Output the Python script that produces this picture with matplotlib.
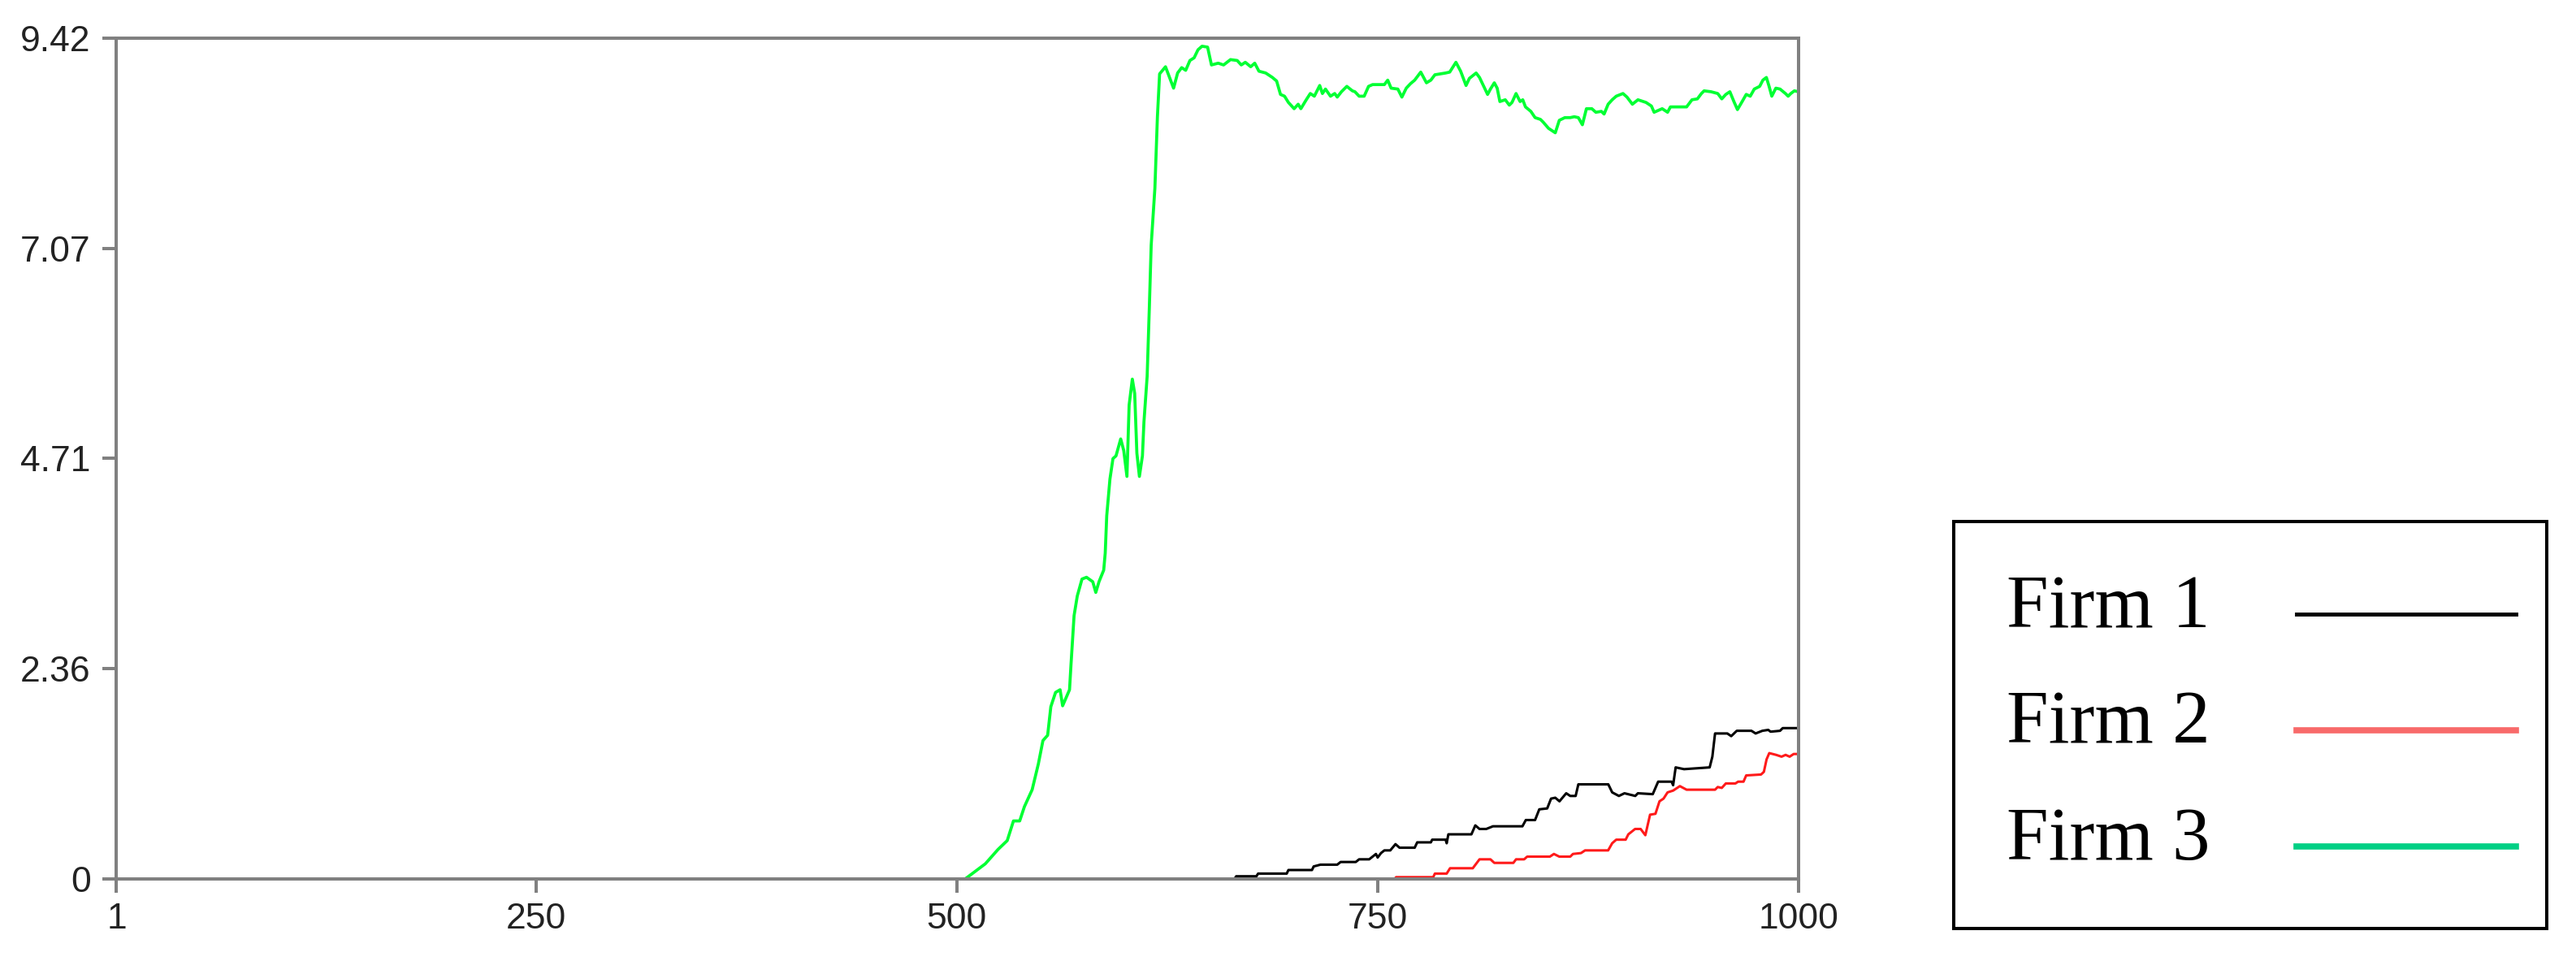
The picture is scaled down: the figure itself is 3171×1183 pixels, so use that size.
import numpy as np
import matplotlib.pyplot as plt
from matplotlib.lines import Line2D
from matplotlib.legend_handler import HandlerLine2D

plt.rcParams['font.family'] = ['Liberation Sans', 'DejaVu Sans']

# tick positions / labels
x_ticks = [1, 250, 500, 750, 1000]
x_labels = ['1', '250', '500', '750', '1000']
y_ticks = [0, 2.355, 4.71, 7.065, 9.42]
y_labels = ['0', '2.36', '4.71', '7.07', '9.42']

firms = ['Firm 1', 'Firm 2', 'Firm 3']

# Firm 3 (green)
green_x = [1, 505, 517, 524.5, 530, 533.7, 537.4, 540.2, 544.8, 548.5, 551.2, 554, 555.9,
           558.7, 561.4, 562.9, 567, 567.9, 569.7, 571.6, 574.4, 577.1, 580.8, 582.6, 584.5,
           587.3, 588.2, 589.1, 591, 592.8, 594.6, 597.4, 599.2, 601.1, 602.4, 604.3, 605.7,
           607, 608.5, 610.3, 611.2, 613.1, 614.4, 615.5, 617.7, 619.2, 620.5, 624, 626.4,
           628.8, 631.2, 633.6, 636, 638.5, 641, 643.3, 645.7, 649, 651.3, 655.3, 658.5,
           662.6, 666.6, 669, 671.4, 674.6, 677, 679.5, 683.5, 687.5, 690, 692.3, 694.7, 697,
           700.4, 702.8, 704.4, 707.6, 710, 712.4, 715.6, 717.2, 719, 722, 724.5, 726, 728.5,
           731.7, 735, 736.5, 739, 742, 744.6, 747, 754, 756, 758, 762, 764.4, 767, 769.5,
           772, 775.6, 779, 781.6, 784, 790.4, 792.8, 796.5, 799.3, 802.5, 804.5, 808.5, 810.5,
           813, 815.3, 817, 819.3, 821, 822.6, 825.8, 828.2, 829.8, 832.2, 834.6, 836.2, 837.8,
           841, 843.5, 846.7, 848.3, 851.5, 855.5, 857.9, 861.2, 864.4, 866.8, 869.2, 871.6,
           874, 877.2, 879.6, 882.9, 884.5, 886.9, 889.3, 891.7, 895.7, 898.1, 901.3, 904.6,
           909.4, 912.6, 914.2, 919, 922.2, 923.9, 933.5, 936.7, 939.9, 942.3, 943.9, 948, 952,
           954.4, 956.8, 959.2, 961.6, 963.7, 966.5, 968.9, 971.3, 973.7, 976.9, 978.8, 980.9,
           982.5, 984.1, 986.5, 989, 992.2, 993.8, 995.4, 997.5, 1000]
green_y = [0, 0, 0.17, 0.33, 0.43, 0.65, 0.65, 0.81, 1.00, 1.29, 1.55, 1.61, 1.93,
           2.09, 2.12, 1.94, 2.12, 2.41, 2.95, 3.17, 3.36, 3.38, 3.33, 3.21, 3.33,
           3.46, 3.65, 4.07, 4.48, 4.71, 4.74, 4.93, 4.80, 4.51, 5.31, 5.60, 5.44,
           4.77, 4.51, 4.74, 5.12, 5.63, 6.40, 7.10, 7.74, 8.54, 9.02, 9.10, 8.98,
           8.86, 9.03, 9.09, 9.06, 9.17, 9.20, 9.29, 9.33, 9.32, 9.12, 9.14, 9.12,
           9.18, 9.17, 9.12, 9.15, 9.10, 9.14, 9.05, 9.03, 8.98, 8.94, 8.79, 8.77, 8.70,
           8.63, 8.68, 8.63, 8.73, 8.80, 8.77, 8.89, 8.80, 8.85, 8.77, 8.80, 8.76, 8.82,
           8.88, 8.83, 8.82, 8.77, 8.77, 8.88, 8.90, 8.90, 8.95, 8.86, 8.85, 8.76, 8.86, 8.91,
           8.95, 9.04, 8.92, 8.95, 9.01, 9.03, 9.04, 9.15, 9.05, 8.89, 8.97, 9.03, 8.98,
           8.88, 8.79, 8.85, 8.92, 8.86, 8.71, 8.73, 8.67, 8.70, 8.80, 8.71, 8.73, 8.65,
           8.60, 8.53, 8.51, 8.48, 8.41, 8.36, 8.50, 8.53, 8.53, 8.54, 8.53, 8.45,
           8.63, 8.63, 8.59, 8.60, 8.57, 8.68, 8.73, 8.77, 8.80, 8.76, 8.68, 8.73,
           8.70, 8.66, 8.59, 8.63, 8.59, 8.65, 8.65, 8.73, 8.74, 8.80, 8.83, 8.82, 8.80,
           8.74, 8.79, 8.82, 8.71, 8.62, 8.71, 8.79, 8.77, 8.85, 8.88, 8.95, 8.98,
           8.88, 8.77, 8.86, 8.85, 8.80, 8.77, 8.80, 8.83, 8.82]

# Firm 1 (black)
black_x = [1, 665, 666, 678, 679, 696, 697, 711, 712, 716, 726, 728, 737, 739, 745, 747,
           749, 750, 752, 754, 757.5, 760.6, 763, 772, 773.5, 781.6, 782.4, 790.4, 791, 792,
           805.7, 808, 810.5, 814.5, 818.5, 836, 838, 843.5, 846, 850.7, 853, 855.5, 858, 862,
           864.4, 867.6, 869.2, 887, 889.3, 893.3, 896.6, 903, 904.6, 913.4, 916.6, 924.6,
           925.5, 927, 932, 947.2, 948.8, 950.4, 957.7, 960, 963.3, 972, 974.5, 978.5, 982,
           983.4, 989, 990.6, 1000]
black_y = [0, 0, 0.03, 0.03, 0.06, 0.06, 0.10, 0.10, 0.14, 0.16, 0.16, 0.19, 0.19, 0.22,
           0.22, 0.25, 0.28, 0.24, 0.29, 0.32, 0.32, 0.39, 0.35, 0.35, 0.41, 0.41, 0.44, 0.44,
           0.40, 0.50, 0.50, 0.60, 0.56, 0.56, 0.59, 0.59, 0.66, 0.66, 0.78, 0.79, 0.90, 0.91,
           0.87, 0.96, 0.93, 0.93, 1.06, 1.06, 0.97, 0.93, 0.96, 0.93, 0.96, 0.95, 1.09, 1.09,
           1.05, 1.25, 1.23, 1.25, 1.37, 1.63, 1.63, 1.60, 1.66, 1.66, 1.63, 1.66, 1.67, 1.65,
           1.66, 1.69, 1.69]

# Firm 2 (red)
red_x = [1, 760, 761, 783, 784, 791, 793, 806.5, 810.5, 817, 819.3, 830.6, 832.2, 837, 838.8,
         852.3, 854.7, 857.9, 864.4, 866, 870.8, 873.2, 886.9, 889.3, 891.7, 897.3, 898.9,
         902.9, 906.2, 909, 911.8, 915, 917.4, 919.8, 922.2, 925.5, 929.5, 933.5, 950.4, 952,
         954.4, 956.8, 962.5, 964.1, 967.3, 968.9, 977.7, 979.4, 981, 982.6, 986.7, 989.9,
         992.3, 994.7, 997.1, 1000]
red_y = [0, 0, 0.02, 0.02, 0.06, 0.06, 0.12, 0.12, 0.22, 0.22, 0.18, 0.18, 0.22, 0.22, 0.25,
         0.25, 0.28, 0.25, 0.25, 0.28, 0.29, 0.32, 0.32, 0.40, 0.44, 0.44, 0.50,
         0.56, 0.56, 0.49, 0.72, 0.73, 0.87, 0.90, 0.97, 0.99, 1.04, 1.00, 1.00, 1.03,
         1.02, 1.07, 1.07, 1.09, 1.09, 1.16, 1.17, 1.20, 1.34, 1.41, 1.39, 1.37,
         1.39, 1.37, 1.40, 1.40]


class ShiftedLine(HandlerLine2D):
    # legend key sits a bit lower and further right than the default
    def create_artists(self, legend, orig_handle, xdescent, ydescent, width, height,
                       fontsize, trans):
        arts = super().create_artists(legend, orig_handle, xdescent, ydescent, width,
                                      height, fontsize, trans)
        for a in arts:
            a.set_xdata(np.asarray(a.get_xdata(), float) + 0.29 * fontsize)
            a.set_ydata(np.asarray(a.get_ydata(), float) - 0.18 * fontsize)
        return arts


fig = plt.figure(figsize=(31.71, 11.83), dpi=100)
ax = fig.add_axes([0.04525, 0.08538, 0.65295, 0.87489])

ax.plot(green_x, green_y, color='#00ff33', lw=2.7)
ax.plot(black_x, black_y, color='black', lw=2.2)
ax.plot(red_x, red_y, color='#ff1a1a', lw=2.2)

ax.set_xlim(1, 1000)
ax.set_ylim(0, 9.42)
ax.set_xticks(x_ticks, x_labels)
ax.set_yticks(y_ticks, y_labels)

for s in ax.spines.values():
    s.set_color('#808080')
    s.set_linewidth(2.9)
ax.tick_params(axis='both', color='#808080', width=2.9, length=12,
               labelsize=32, labelcolor='#222222')
ax.tick_params(axis='y', pad=11)
ax.tick_params(axis='x', pad=9)

# legend box on the right, text first then line
leg_colors = ['black', '#f86a6a', '#00d084']
leg_widths = [3.5, 5.5, 5.5]
handles = [Line2D([], [], color=c, lw=w) for c, w in zip(leg_colors, leg_widths)]
leg = fig.legend(handles, firms, loc='upper left', bbox_to_anchor=(0.7584, 0.4575),
                 markerfirst=False, prop={'family': 'Liberation Serif', 'size': 67},
                 handlelength=2.9, handletextpad=0.85, labelspacing=0.62,
                 borderpad=0.7, borderaxespad=0, fancybox=False, framealpha=1,
                 edgecolor='black', handler_map={Line2D: ShiftedLine()})
leg.get_frame().set_linewidth(2.9)

fig.savefig('out.png', dpi=100)
